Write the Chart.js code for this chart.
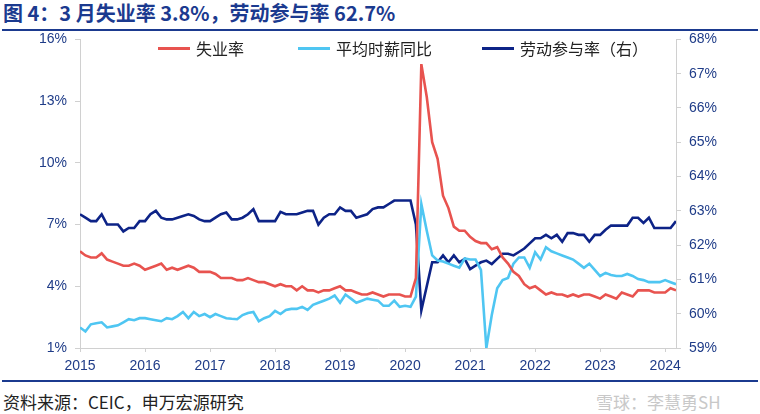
<!DOCTYPE html>
<html>
<head>
<meta charset="utf-8">
<script src="https://cdn.jsdelivr.net/npm/chart.js@4.4.1/dist/chart.umd.min.js"></script>
<style>
  body { margin: 0; background: #fff; width: 760px; height: 414px; overflow: hidden; position: relative; font-family: "Noto Sans CJK SC", "Liberation Sans", sans-serif; }
  #title { position: absolute; left: 3px; top: 0px; font-size: 20px; font-weight: bold; color: #1b3a8f; white-space: nowrap; line-height: 26px; }
  .rule { position: absolute; left: 2px; width: 756px; height: 2px; background: #1b3a8f; }
  #source { position: absolute; left: 3px; top: 391px; font-size: 17px; color: #222; white-space: nowrap; line-height: 22px; }
  #mark { position: absolute; left: 596px; top: 391px; font-size: 17px; color: #c8c8c8; white-space: nowrap; line-height: 22px; }
  #chartWrap { position: absolute; left: 0; top: 23px; }
  #legend { position: absolute; top: 38px; left: 0; font-size: 16px; color: #222; }
  .item { position: absolute; white-space: nowrap; display: flex; align-items: center; line-height: 20px; }
  .item span.sw { display: inline-block; width: 32px; height: 3px; margin-right: 6px; }
</style>
</head>
<body>
<div id="title">图 4：3 月失业率 3.8%，劳动参与率 62.7%</div>
<div class="rule" style="top:29px"></div>
<div id="chartWrap"><canvas id="chartMain" width="760" height="352"></canvas></div>
<div id="legend">
  <div class="item" style="left:158px"><span class="sw" style="background:#e8534f"></span>失业率</div>
  <div class="item" style="left:298px"><span class="sw" style="background:#4fc6f2"></span>平均时薪同比</div>
  <div class="item" style="left:482px"><span class="sw" style="background:#0d2387"></span>劳动参与率（右）</div>
</div>
<div class="rule" style="top:380px"></div>
<div id="source">资料来源：CEIC，申万宏源研究</div>
<div id="mark">雪球：李慧勇SH</div>
<script>
// 月度数据 2015-01 ~ 2024-03
const yearTicks = ['2015', '2016', '2017', '2018', '2019', '2020', '2021', '2022', '2023', '2024'];

// 失业率 (%)
const unemployment = [
    5.7, 5.5, 5.4, 5.4, 5.6, 5.3, 5.2, 5.1, 5.0, 5.0, 5.1, 5.0,
    4.8, 4.9, 5.0, 5.1, 4.8, 4.9, 4.8, 4.9, 5.0, 4.9, 4.7, 4.7,
    4.7, 4.6, 4.4, 4.4, 4.4, 4.3, 4.3, 4.4, 4.3, 4.2, 4.2, 4.1,
    4.0, 4.1, 4.0, 4.0, 3.8, 4.0, 3.8, 3.8, 3.7, 3.8, 3.8, 3.9,
    4.0, 3.8, 3.8, 3.7, 3.6, 3.6, 3.7, 3.6, 3.5, 3.6, 3.6, 3.6,
    3.5, 3.5, 4.4, 14.8, 13.2, 11.0, 10.2, 8.4, 7.8, 6.9, 6.7, 6.7,
    6.4, 6.2, 6.1, 6.1, 5.8, 5.9, 5.4, 5.1, 4.7, 4.5, 4.1, 3.9,
    4.0, 3.8, 3.6, 3.7, 3.6, 3.6, 3.5, 3.6, 3.5, 3.6, 3.6, 3.5,
    3.4, 3.6, 3.5, 3.4, 3.7, 3.6, 3.5, 3.8, 3.8, 3.8, 3.7, 3.7,
    3.7, 3.9, 3.8
];

// 平均时薪同比 (%)
const wageYoy = [
    2.0, 1.8, 2.15, 2.2, 2.25, 2.0, 2.05, 2.1, 2.25, 2.4, 2.35, 2.45,
    2.45, 2.4, 2.35, 2.3, 2.45, 2.4, 2.55, 2.75, 2.45, 2.75, 2.55, 2.65,
    2.5, 2.65, 2.55, 2.45, 2.42, 2.4, 2.6, 2.7, 2.75, 2.3, 2.45, 2.55,
    2.8, 2.65, 2.85, 2.9, 2.9, 3.0, 2.85, 3.1, 3.2, 3.3, 3.4, 3.55,
    3.2, 3.6, 3.4, 3.2, 3.3, 3.4, 3.35, 3.3, 3.05, 3.05, 3.3, 3.0,
    3.05, 3.0, 3.5, 8.0, 6.7, 5.5, 5.25, 5.2, 5.1, 5.0, 4.9, 5.35,
    5.3, 5.3, 4.8, 1.0, 2.6, 3.9, 4.3, 4.4, 5.1, 5.4, 5.4, 4.9,
    5.65, 5.3, 5.9, 5.7, 5.6, 5.5, 5.4, 5.3, 5.1, 4.9, 5.1, 4.8,
    4.5, 4.65, 4.55, 4.5, 4.5, 4.6, 4.5, 4.35, 4.3, 4.2, 4.2, 4.2,
    4.3, 4.2, 4.1
];

// 劳动参与率 (%, 右轴)
const participation = [
    62.9, 62.8, 62.7, 62.7, 62.9, 62.6, 62.6, 62.6, 62.4, 62.5, 62.5, 62.7,
    62.7, 62.9, 63.0, 62.8, 62.75, 62.75, 62.8, 62.85, 62.9, 62.85, 62.75, 62.7,
    62.7, 62.8, 62.9, 62.95, 62.75, 62.75, 62.8, 62.9, 63.05, 62.7, 62.7, 62.7,
    62.7, 62.97, 62.9, 62.9, 62.9, 62.95, 63.0, 63.0, 62.6, 62.8, 62.9, 62.9,
    63.1, 63.0, 63.0, 62.8, 62.85, 62.9, 63.05, 63.1, 63.1, 63.2, 63.3, 63.3,
    63.3, 63.3, 62.6, 60.1, 60.8, 61.5, 61.5, 61.7, 61.5, 61.7, 61.5, 61.6,
    61.3, 61.4, 61.5, 61.55, 61.45, 61.6, 61.75, 61.75, 61.7, 61.8, 61.9, 62.05,
    62.2, 62.2, 62.3, 62.2, 62.3, 62.1, 62.35, 62.35, 62.3, 62.3, 62.1, 62.3,
    62.3, 62.45, 62.57, 62.57, 62.57, 62.57, 62.8, 62.8, 62.65, 62.8, 62.5, 62.5,
    62.5, 62.5, 62.7
];

const tickColor = '#1f3c88';
const axisColor = '#d0d0d0';
const tickFont = { family: '"Liberation Sans", Arial, sans-serif', size: 14 };

function toPoints(arr) {
    return arr.map((v, i) => ({ x: i, y: v }));
}

const ctx = document.getElementById('chartMain').getContext('2d');
const chartMain = new Chart(ctx, {
    type: 'line',
    data: {
        datasets: [{
            label: '失业率',
            data: toPoints(unemployment),
            borderColor: '#e8534f',
            borderWidth: 2.6,
            yAxisID: 'y'
        }, {
            label: '平均时薪同比',
            data: toPoints(wageYoy),
            borderColor: '#4fc6f2',
            borderWidth: 2.6,
            yAxisID: 'y'
        }, {
            label: '劳动参与率（右）',
            data: toPoints(participation),
            borderColor: '#0d2387',
            borderWidth: 2.6,
            yAxisID: 'y1'
        }]
    },
    options: {
        responsive: false,
        animation: false,
        devicePixelRatio: 1,
        layout: { padding: { top: 0, left: 0, right: 0, bottom: 0 } },
        elements: {
            point: { radius: 0 },
            line: { tension: 0 }
        },
        plugins: {
            legend: { display: false },
            tooltip: { enabled: false }
        },
        scales: {
            x: {
                type: 'linear',
                min: 0,
                max: 110,
                afterBuildTicks: function(scale) {
                    scale.ticks = yearTicks.map((y, i) => ({ value: i * 12 }));
                },
                afterFit: function(scale) { scale.height = 27; },
                grid: { drawOnChartArea: false, drawTicks: true, tickLength: 4, color: axisColor },
                border: { color: axisColor, width: 1 },
                ticks: {
                    autoSkip: false,
                    maxRotation: 0,
                    padding: 6,
                    color: tickColor,
                    font: tickFont,
                    callback: function(v) { return yearTicks[Math.round(v / 12)]; }
                }
            },
            y: {
                position: 'left',
                min: 1,
                max: 16,
                afterFit: function(scale) { scale.width = 80; },
                grid: { drawOnChartArea: false, drawTicks: true, tickLength: 5, color: axisColor },
                border: { color: axisColor, width: 1 },
                ticks: {
                    stepSize: 3,
                    padding: 8,
                    color: tickColor,
                    font: tickFont,
                    callback: function(v) { return v + '%'; }
                }
            },
            y1: {
                position: 'right',
                min: 59,
                max: 68,
                afterFit: function(scale) { scale.width = 84; },
                grid: { drawOnChartArea: false, drawTicks: true, tickLength: 5, color: axisColor },
                border: { color: axisColor, width: 1 },
                ticks: {
                    stepSize: 1,
                    padding: 8,
                    color: tickColor,
                    font: tickFont,
                    callback: function(v) { return v + '%'; }
                }
            }
        }
    }
});
</script>
</body>
</html>
